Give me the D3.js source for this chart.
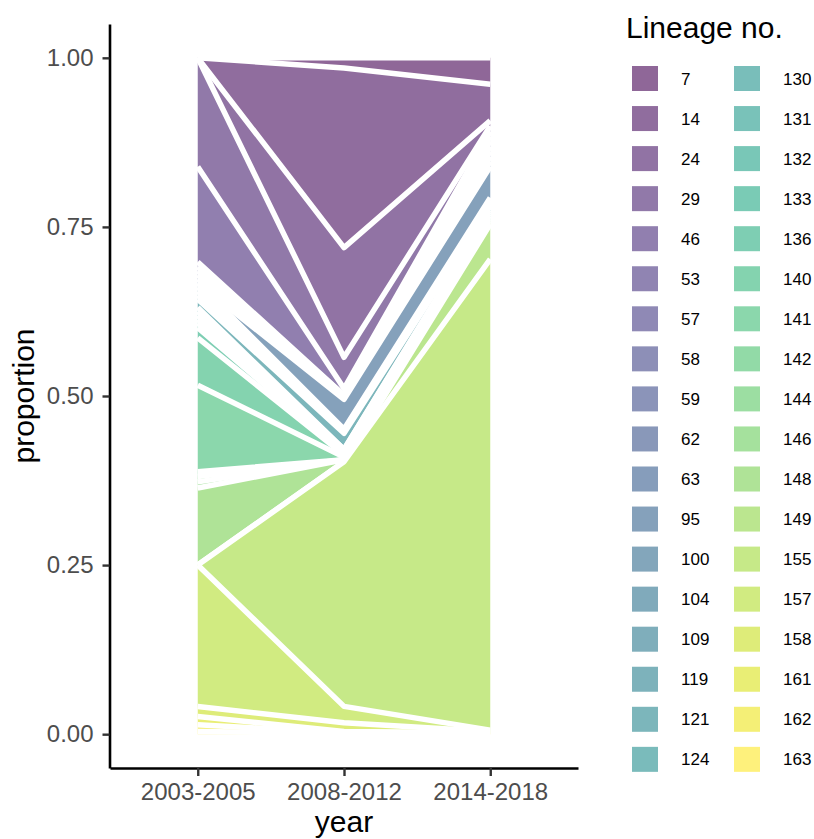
<!DOCTYPE html>
<html>
<head>
<meta charset="utf-8">
<script src="https://cdn.jsdelivr.net/npm/d3@7"></script>
<style>
  body { margin: 0; background: #fff; }
  svg { display: block; }
  text { font-family: "Liberation Sans", Arial, Helvetica, sans-serif; }
</style>
</head>
<body>
<svg id="chart" width="814" height="839"></svg>
<script>
// Sampling periods (x positions)
const periods = ["2003-2005", "2008-2012", "2014-2018"];

// Lineages, in legend order (first one is stacked on top)
const lineages = [7, 14, 24, 29, 46, 53, 57, 58, 59, 62, 63, 95, 100, 104, 109, 119, 121, 124,
                  130, 131, 132, 133, 136, 140, 141, 142, 144, 146, 148, 149, 155, 157, 158, 161, 162, 163];

// Share of isolates (%) per lineage in each period, same order as `lineages`
const share2003 = [0, 0, 0, 16.1, 14.1, 0.7, 0.6, 0.6, 0.6, 0.6, 0, 0, 0.6, 0.6, 0.6, 0.6, 1.2, 0.6,
                   0.6, 0.6, 0.5, 0.7, 1.5, 7.0, 12.8, 0.7, 0.8, 0.9, 11.4, 0, 0, 20.9, 1.5, 1.2, 1.0, 0.4];
const share2008 = [1.5, 26.5, 16.2, 4.6, 1.0, 0, 0.3, 0, 0, 0, 0.3, 4.4, 0.2, 0, 0, 0.4, 2.4, 0,
                   0.5, 0, 0, 0, 0.3, 0.3, 0.4, 0, 0, 0, 0.3, 0, 36.1, 2.4, 1.3, 0.2, 0.1, 0.1];
const share2014 = [3.9, 5.4, 0.8, 0.8, 0.7, 0.7, 0.8, 0.7, 0.8, 0.7, 0.8, 4.6, 0.3, 0.3, 0.3, 0.3, 0.7, 0.3,
                   0.2, 0.1, 0.2, 0.1, 0.2, 0.2, 0.1, 0.2, 0.1, 0.2, 0.1, 5.2, 69.7, 0.2, 0.2, 0.1, 0.1, 0];

const yTicks = [0, 0.25, 0.5, 0.75, 1];

const svg = d3.select("#chart");
const panel = { left: 110, right: 578, top: 24, bottom: 768 };

// Rows for the stack: one per period
const shares = [share2003, share2008, share2014];
const rows = periods.map((p, j) => {
  const row = { period: p };
  lineages.forEach((l, i) => { row[l] = shares[j][i]; });
  return row;
});

// Proportional stack; the first lineage ends up at the top
const stack = d3.stack()
  .keys(lineages.slice().reverse())
  .offset(d3.stackOffsetExpand);
const series = stack(rows);
const byKey = new Map(series.map(s => [+s.key, s]));

const x = d3.scalePoint().domain(periods).range([panel.left, panel.right]).padding(0.6);
const y = d3.scaleLinear().domain([-0.05, 1.05]).range([panel.bottom, panel.top]);

const color = d3.scaleOrdinal()
  .domain(lineages)
  .range(lineages.map((_, i) => d3.interpolateViridis(i / (lineages.length - 1))));

const area = d3.area()
  .x(d => x(d.data.period))
  .y0(d => y(d[0]))
  .y1(d => y(d[1]));
const upper = d3.line()
  .x(d => x(d.data.period))
  .y(d => y(d[1]));

// Areas drawn in legend order, each with its white upper outline
const gAreas = svg.append("g");
lineages.forEach(l => {
  const s = byKey.get(l);
  gAreas.append("path")
    .attr("d", area(s))
    .attr("fill", color(l))
    .attr("fill-opacity", 0.6);
  gAreas.append("path")
    .attr("d", upper(s))
    .attr("fill", "none")
    .attr("stroke", "#fff")
    .attr("stroke-width", 5.5)
    .attr("stroke-linejoin", "round");
});

// Axes
const yAxis = svg.append("g")
  .attr("transform", `translate(${panel.left - 0.5},0)`)
  .call(d3.axisLeft(y).tickValues(yTicks).tickFormat(d3.format(".2f"))
    .tickSize(7).tickSizeOuter(0).tickPadding(9));
const xAxis = svg.append("g")
  .attr("transform", `translate(0,${panel.bottom})`)
  .call(d3.axisBottom(x).tickSize(8).tickSizeOuter(0).tickPadding(7));

[yAxis, xAxis].forEach(g => {
  g.select(".domain").attr("stroke", "#000").attr("stroke-width", 2.6);
  g.selectAll(".tick line").attr("stroke", "#333").attr("stroke-width", 2.4);
  g.selectAll(".tick text")
    .attr("fill", "#4d4d4d")
    .style("font-size", "24px")
    .style("font-family", "'Liberation Sans', Arial, sans-serif");
});

// Axis titles
svg.append("text")
  .attr("x", (x(periods[0]) + x(periods[2])) / 2)
  .attr("y", 832)
  .attr("text-anchor", "middle")
  .style("font-size", "30px")
  .text("year");
svg.append("text")
  .attr("transform", `translate(34,${(panel.top + panel.bottom) / 2}) rotate(-90)`)
  .attr("text-anchor", "middle")
  .style("font-size", "30px")
  .text("proportion");

// Legend: two columns of keys
const legend = svg.append("g");
legend.append("text")
  .attr("x", 626)
  .attr("y", 38)
  .style("font-size", "30px")
  .text("Lineage no.");

const perCol = Math.ceil(lineages.length / 2);
const keys = legend.selectAll("g.key")
  .data(lineages)
  .join("g")
  .attr("class", "key")
  .attr("transform", (d, i) => {
    const col = Math.floor(i / perCol), row = i % perCol;
    return `translate(${632 + col * 102},${66 + row * 40.05})`;
  });
keys.append("rect")
  .attr("width", 26)
  .attr("height", 25)
  .attr("fill", d => color(d))
  .attr("fill-opacity", 0.6);
keys.append("text")
  .attr("x", 49)
  .attr("y", 12.5)
  .attr("dy", "0.36em")
  .style("font-size", "17px")
  .text(d => d);
</script>
</body>
</html>
